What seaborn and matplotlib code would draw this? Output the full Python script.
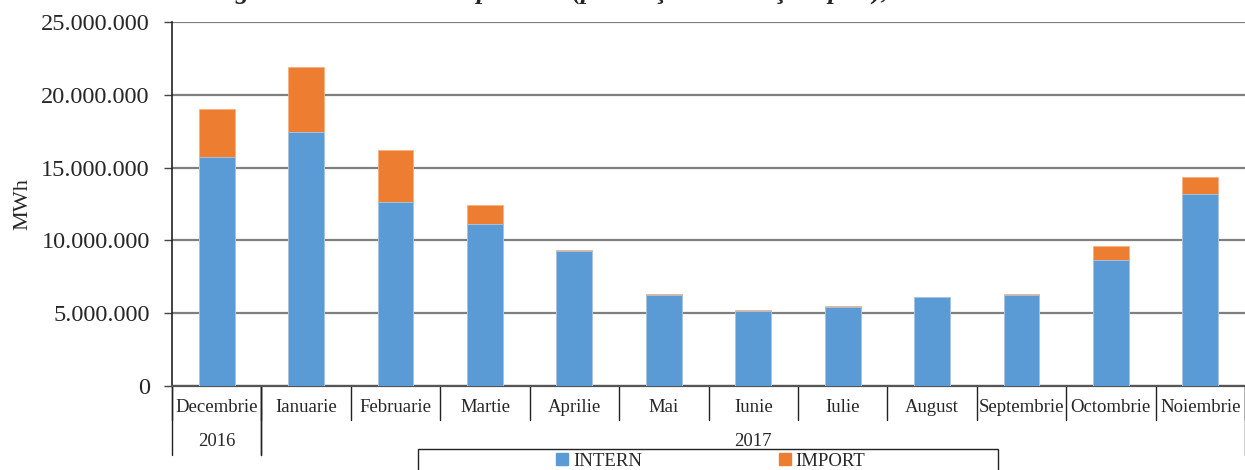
import matplotlib
matplotlib.use("Agg")
import matplotlib.pyplot as plt
import seaborn as sns
import pandas as pd
from matplotlib.patches import Patch, Rectangle
from matplotlib.ticker import FuncFormatter, MultipleLocator

# =========================
# DATA
# =========================
months = ["Decembrie", "Ianuarie", "Februarie", "Martie", "Aprilie", "Mai",
          "Iunie", "Iulie", "August", "Septembrie", "Octombrie", "Noiembrie"]
years = ["2016", "2017"]
year_span = [1, 11]  # months in each year group
intern = [15730000, 17420000, 12660000, 11130000, 9300000, 6280000,
          5150000, 5440000, 6110000, 6270000, 8650000, 13190000]
import_ = [3300000, 4470000, 3550000, 1280000, 40000, 40000,
           70000, 30000, 20000, 30000, 970000, 1160000]

title = "Fig. 3. Structura cererii pe surse (producţie internă şi import), în ultimele 12 luni"

df = pd.DataFrame({"luna": months, "INTERN": intern, "IMPORT": import_})
df["TOTAL"] = df["INTERN"] + df["IMPORT"]

blue = "#5B9BD5"
orange = "#ED7D31"

# =========================
# STYLE
# =========================
sns.set_style("white")
plt.rcParams["font.family"] = ["Liberation Serif", "DejaVu Serif"]

fig = plt.figure(figsize=(12.45, 4.70), dpi=100)
ax = fig.add_axes([172 / 1245, 1 - 386 / 470, 1 - 172 / 1245, (386 - 22) / 470])

# stacked bars: total in orange behind, intern in blue in front
sns.barplot(data=df, x="luna", y="TOTAL", color=orange, width=0.4, saturation=1,
            edgecolor="#F4B183", linewidth=0.6, ax=ax, zorder=3)
sns.barplot(data=df, x="luna", y="INTERN", color=blue, width=0.4, saturation=1,
            edgecolor="#A9C9EA", linewidth=0.6, ax=ax, zorder=3)

ax.set_xlim(-0.5, len(months) - 0.5)
ax.set_ylim(0, 25000000)
ax.yaxis.set_major_locator(MultipleLocator(5000000))
ax.yaxis.set_major_formatter(FuncFormatter(lambda v, _: f"{int(v):,}".replace(",", ".")))
ax.yaxis.grid(True, color="#7f7f7f", linewidth=1.6, zorder=0)
ax.set_axisbelow(True)

for s in ["top", "right"]:
    ax.spines[s].set_visible(False)
ax.spines["left"].set_color("#222222")
ax.spines["left"].set_linewidth(1.2)
ax.spines["bottom"].set_color("#555555")
ax.spines["bottom"].set_linewidth(1.6)

ax.tick_params(axis="y", direction="out", length=6, width=1, color="#444444",
               labelsize=17.5, pad=10, left=True)
ax.set_xticks([])
ax.set_xlabel("")
ax.set_ylabel("MWh", fontsize=16, labelpad=6)

# category labels and separators below the axis
trans = ax.get_xaxis_transform()
px = 1 / (386 - 22)  # one pixel in axes fraction (vertical)
for i, m in enumerate(months):
    ax.text(i, -22 * px, m, transform=trans, ha="center", va="center",
            fontsize=13.5, clip_on=False)
for i in range(len(months) + 1):
    ax.plot([i - 0.5, i - 0.5], [0, -34 * px], transform=trans, color="#222222",
            linewidth=1, clip_on=False)

start = 0
for y, n in zip(years, year_span):
    ax.text(start + (n - 1) / 2, -55 * px, y, transform=trans, ha="center",
            va="center", fontsize=13.5, clip_on=False)
    for edge in [start - 0.5, start + n - 0.5]:
        ax.plot([edge, edge], [0, -69 * px], transform=trans, color="#222222",
                linewidth=1, clip_on=False)
    start += n

# legend with a box running off the bottom of the figure
fig.patches.append(Rectangle((418 / 1245, -0.02), (998 - 418) / 1245, 0.02 + (470 - 449) / 470,
                             transform=fig.transFigure, fill=False, edgecolor="#222222",
                             linewidth=1))
handles = [Patch(color=blue, label="INTERN"), Patch(color=orange, label="IMPORT")]
fig.legend(handles=handles, loc="center left", bbox_to_anchor=(556 / 1245, 1 - 461 / 470),
           ncol=2, frameon=False, fontsize=13.5, handlelength=0.65, handleheight=0.65,
           handletextpad=0.25, columnspacing=7.3, borderpad=0, borderaxespad=0)

# title, mostly cut off at the top edge as in the reference
fig.text(653 / 1245, 1 + 1 / 470, title, ha="center", va="baseline",
         fontsize=19, fontweight="bold", fontstyle="italic")

fig.savefig("out.png", dpi=100)
